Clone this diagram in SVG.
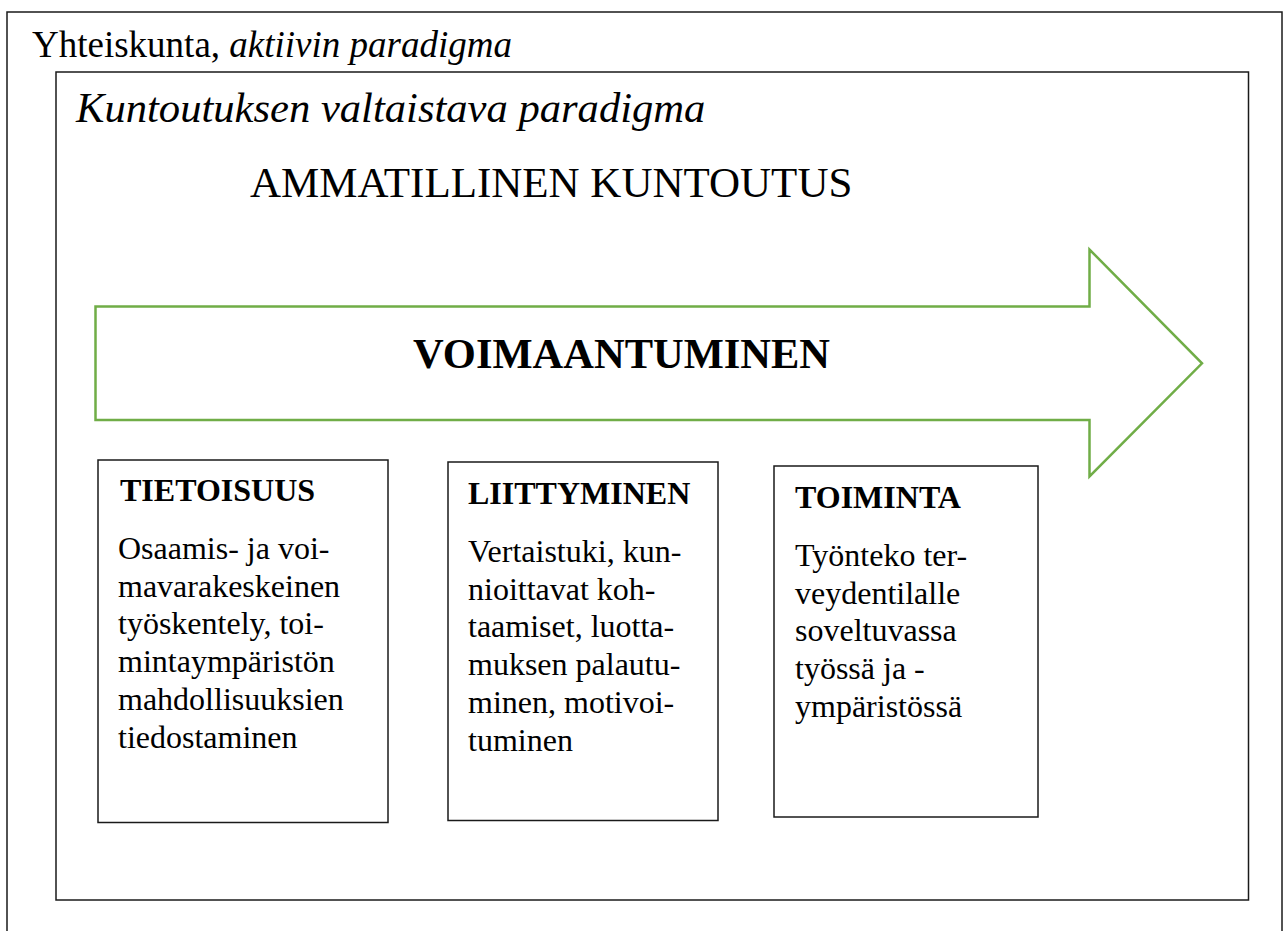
<svg xmlns="http://www.w3.org/2000/svg" width="1284" height="931" viewBox="0 0 1284 931">
  <style>
    text { font-family: "Liberation Serif", "Times New Roman", serif; fill: #000; }
    .frame { fill: none; stroke: #1a1a1a; stroke-width: 1.5; }
    .box { fill: #fff; stroke: #1a1a1a; stroke-width: 1.5; }
    .arrow { fill: #fff; stroke: #70AD47; stroke-width: 2.5; stroke-linejoin: miter; }
    .title { font-size: 32px; font-weight: bold; }
    .body { font-size: 32px; }
    .it { font-style: italic; }
  </style>
  <rect width="1284" height="931" fill="#fff"/>

  <g id="society">
    <rect class="frame" x="7" y="12" width="1275" height="940"/>
    <text x="32" y="57" font-size="37">Yhteiskunta, <tspan class="it">aktiivin paradigma</tspan></text>
  </g>

  <g id="paradigm">
    <rect class="frame" x="56" y="72" width="1192.5" height="828"/>
    <text x="76" y="122" font-size="42.6" class="it">Kuntoutuksen valtaistava paradigma</text>
    <text x="250" y="197" font-size="43">AMMATILLINEN KUNTOUTUS</text>
  </g>

  <g id="voimaantuminen">
    <polygon class="arrow" points="95.5,306.5 1089.5,306.5 1089.5,249.5 1202,363.3 1089.5,476.5 1089.5,420 95.5,420"/>
    <text x="413" y="368" font-size="42.5" font-weight="bold">VOIMAANTUMINEN</text>
  </g>

  <g id="connectors"></g>

  <g id="tietoisuus">
    <rect class="box" x="98" y="460" width="290" height="362.5"/>
    <text class="title" x="120" y="501">TIETOISUUS</text>
    <text class="body" x="118">
      <tspan x="118" y="559">Osaamis- ja voi-</tspan>
      <tspan x="118" y="596.7">mavarakeskeinen</tspan>
      <tspan x="118" y="634.4">työskentely, toi-</tspan>
      <tspan x="118" y="672.1">mintaympäristön</tspan>
      <tspan x="118" y="709.8">mahdollisuuksien</tspan>
      <tspan x="118" y="747.5">tiedostaminen</tspan>
    </text>
  </g>

  <g id="liittyminen">
    <rect class="box" x="448" y="462" width="270" height="358.5"/>
    <text class="title" x="468" y="504">LIITTYMINEN</text>
    <text class="body" x="468">
      <tspan x="468" y="562">Vertaistuki, kun-</tspan>
      <tspan x="468" y="599.7">nioittavat koh-</tspan>
      <tspan x="468" y="637.4">taamiset, luotta-</tspan>
      <tspan x="468" y="675.1">muksen palautu-</tspan>
      <tspan x="468" y="712.8">minen, motivoi-</tspan>
      <tspan x="468" y="750.5">tuminen</tspan>
    </text>
  </g>

  <g id="toiminta">
    <rect class="box" x="774" y="466" width="264" height="351"/>
    <text class="title" x="795" y="508">TOIMINTA</text>
    <text class="body" x="795">
      <tspan x="795" y="566">Työnteko ter-</tspan>
      <tspan x="795" y="603.7">veydentilalle</tspan>
      <tspan x="795" y="641.4">soveltuvassa</tspan>
      <tspan x="795" y="679.1">työssä ja -</tspan>
      <tspan x="795" y="716.8">ympäristössä</tspan>
    </text>
  </g>
</svg>
